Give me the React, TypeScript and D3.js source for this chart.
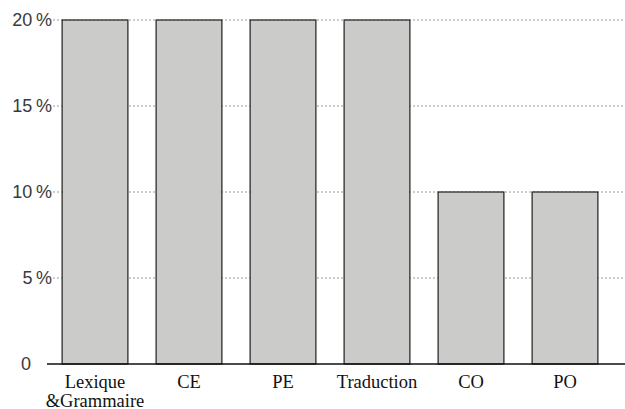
import React from "react";
import * as d3 from "d3";

const categories = ["Lexique\n&Grammaire", "CE", "PE", "Traduction", "CO", "PO"];
const values = [20, 20, 20, 20, 10, 10];
const yTicks = [0, 5, 10, 15, 20];
const tickLabels = ["0", "5\u2009%", "10\u2009%", "15\u2009%", "20\u2009%"];

export default function App() {
  const W = 625, H = 409;
  const x = d3.scaleBand<string>().domain(categories).range([48, 612]).paddingInner(0.3).paddingOuter(0.15);
  const y = d3.scaleLinear().domain([0, 20]).range([364, 20]);
  return (
    <svg width={W} height={H} style={{ position: "absolute", left: 0, top: 0, display: "block" }}>
      <rect width={W} height={H} fill="#fff" />
      {yTicks.map((t) =>
        t === 0 ? null : (
          <line key={"g" + t} x1={53} x2={W} y1={y(t)} y2={y(t)} stroke="#9a9a9a" strokeWidth={1} strokeDasharray="2,2" />
        )
      )}
      {yTicks.map((t, i) => (
        <text
          key={"t" + t}
          x={t === 0 ? 21 : 52}
          y={y(t)}
          dy="0.36em"
          textAnchor={t === 0 ? "start" : "end"}
          fontFamily="'Liberation Sans', Arial, sans-serif"
          fontSize={18}
          fill="#3a3a3a"
        >
          {tickLabels[i]}
        </text>
      ))}
      {categories.map((c, i) => (
        <rect
          key={c}
          x={x(c)!}
          y={y(values[i])}
          width={x.bandwidth()}
          height={y(0) - y(values[i])}
          fill="#cbccc9"
          stroke="#1e1e1e"
          strokeWidth={1.2}
        />
      ))}
      <line x1={47} x2={W} y1={y(0)} y2={y(0)} stroke="#111" strokeWidth={1.5} />
      {categories.map((c) => {
        const lines = c.split("\n");
        const cx = x(c)! + x.bandwidth() / 2;
        return (
          <text key={"l" + c} x={cx} y={388} textAnchor="middle" fontFamily="'Liberation Serif', 'Times New Roman', serif" fontSize={18.5} fill="#111">
            {lines.map((l, j) => (
              <tspan key={j} x={cx} dy={j === 0 ? 0 : 19}>
                {l}
              </tspan>
            ))}
          </text>
        );
      })}
    </svg>
  );
}
